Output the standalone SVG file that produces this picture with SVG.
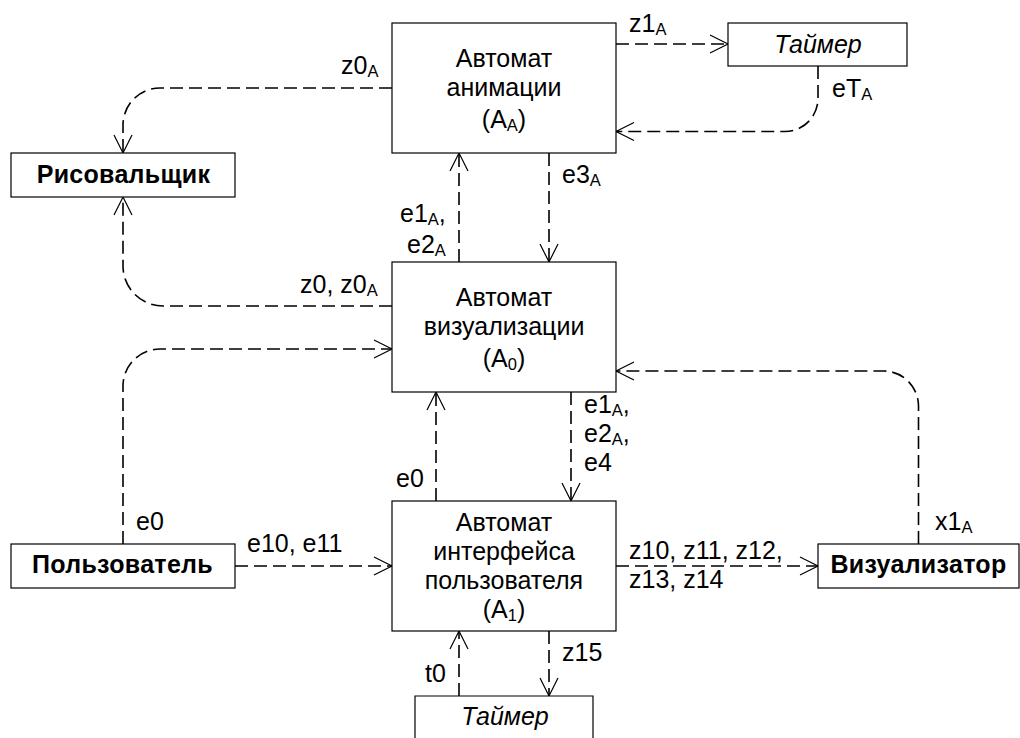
<svg xmlns="http://www.w3.org/2000/svg" width="1020" height="738" viewBox="0 0 1020 738">
<defs>
<marker id="a" markerUnits="userSpaceOnUse" markerWidth="22" markerHeight="22" refX="18" refY="10" orient="auto" overflow="visible"><path d="M0 1 L18 10 L0 19" fill="none" stroke="#000" stroke-width="1.2"/></marker>
</defs>
<style>
text{font-family:"Liberation Sans",Arial,sans-serif;font-size:25px;fill:#000}
.m{text-anchor:middle}
.b{font-weight:bold;letter-spacing:.3px}
.i{font-style:italic}
.s{font-size:16.500px}
rect{fill:#fff;stroke:#000;stroke-width:1.2}
.c{fill:none;stroke:#000;stroke-width:1.6;stroke-dasharray:13 6;marker-end:url(#a)}
</style>
<g id="connectors">
<path class="c" d="M392 88H160A37 37 0 0 0 123 125V153"/>
<path class="c" d="M392 306H163A40 40 0 0 1 123 266V197"/>
<path class="c" d="M616 44H728"/>
<path class="c" d="M818 66V98A33 33 0 0 1 785 131.500H616"/>
<path class="c" d="M459 262V153"/>
<path class="c" d="M549 153V262"/>
<path class="c" d="M123 544V386A37 37 0 0 1 160 349H392"/>
<path class="c" d="M918.500 544V406A35 35 0 0 0 883 371H616"/>
<path class="c" d="M436 501V392"/>
<path class="c" d="M571 392V501"/>
<path class="c" d="M235 566H392"/>
<path class="c" d="M616 566H818"/>
<path class="c" d="M459 696V631"/>
<path class="c" d="M549 631V696"/>
</g>
<g id="node-aa"><rect x="392" y="23" width="224" height="130"/>
<text class="m" x="504" y="67">Автомат</text><text class="m" x="504" y="96">анимации</text><text class="m" x="504" y="128">(A<tspan class="s" dy="3">A</tspan><tspan dy="-3">)</tspan></text></g>
<g id="node-a0"><rect x="392" y="262" width="224" height="130"/>
<text class="m" x="504" y="306">Автомат</text><text class="m" x="504" y="335">визуализации</text><text class="m" x="504" y="367">(A<tspan class="s" dy="3">0</tspan><tspan dy="-3">)</tspan></text></g>
<g id="node-a1"><rect x="392" y="501" width="224" height="130"/>
<text class="m" x="504" y="531">Автомат</text><text class="m" x="504" y="560">интерфейса</text><text class="m" x="504" y="589">пользователя</text><text class="m" x="504" y="618">(A<tspan class="s" dy="3">1</tspan><tspan dy="-3">)</tspan></text></g>
<g id="node-timer1"><rect x="728" y="23" width="179" height="43"/><text class="m i" x="818" y="53">Таймер</text></g>
<g id="node-timer2"><path d="M415 738V696H593V738" fill="#fff" stroke="#000" stroke-width="1.2"/><text class="m i" x="505" y="725">Таймер</text></g>
<g id="node-painter"><rect x="11" y="153" width="224" height="44"/><text class="m b" x="123.500" y="183">Рисовальщик</text></g>
<g id="node-user"><rect x="11" y="544" width="224" height="44"/><text class="m b" x="122.500" y="573">Пользователь</text></g>
<g id="node-vis"><rect x="818" y="544" width="201" height="44"/><text class="m b" x="918.500" y="573">Визуализатор</text></g>
<g id="labels">
<text x="341" y="74">z0<tspan class="s" dy="3">A</tspan></text>
<text x="629" y="32">z1<tspan class="s" dy="3">A</tspan></text>
<text x="832" y="97">eT<tspan class="s" dy="3">A</tspan></text>
<text x="562" y="183">e3<tspan class="s" dy="3">A</tspan></text>
<text x="400" y="222">e1<tspan class="s" dy="3">A</tspan><tspan dy="-3">,</tspan></text>
<text x="407" y="253">e2<tspan class="s" dy="3">A</tspan></text>
<text x="300" y="293">z0, z0<tspan class="s" dy="3">A</tspan></text>
<text x="584" y="413">e1<tspan class="s" dy="3">A</tspan><tspan dy="-3">,</tspan></text>
<text x="584" y="442">e2<tspan class="s" dy="3">A</tspan><tspan dy="-3">,</tspan></text>
<text x="584" y="471">e4</text>
<text x="396" y="487">e0</text>
<text x="136" y="530">e0</text>
<text x="247" y="552">e10, e11</text>
<text x="629" y="559">z10, z11, z12,</text>
<text x="629" y="588">z13, z14</text>
<text x="935" y="530">x1<tspan class="s" dy="3">A</tspan></text>
<text x="562" y="661">z15</text>
<text x="425" y="682">t0</text>
</g>
</svg>
